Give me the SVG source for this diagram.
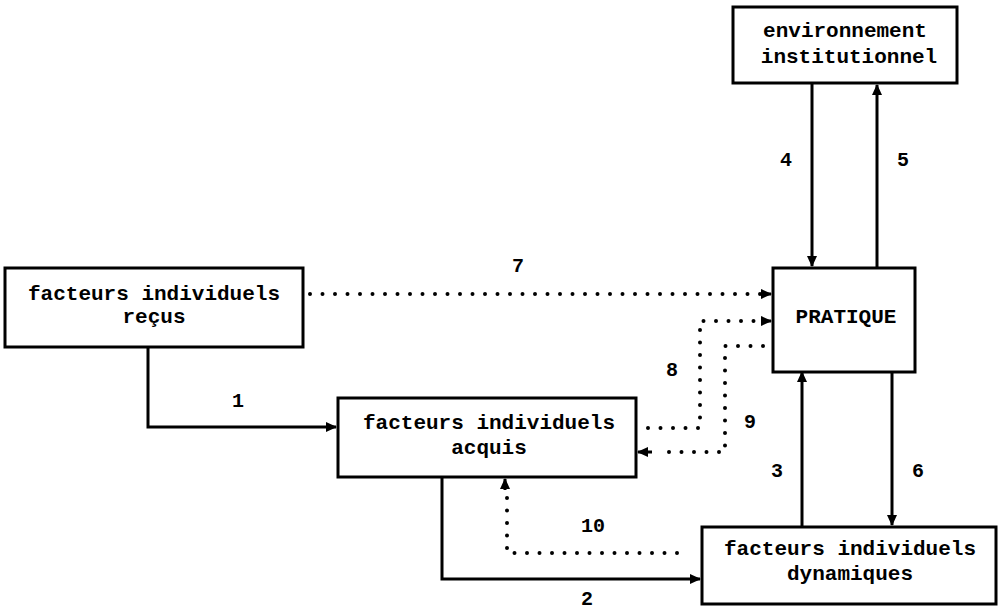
<svg xmlns="http://www.w3.org/2000/svg" width="998" height="610" viewBox="0 0 998 610">
<style>
.box{fill:#fff;stroke:#000;stroke-width:3}
.t{font-family:"Liberation Mono",monospace;font-weight:bold;font-size:21px;fill:#000;text-anchor:middle}
.n{font-family:"Liberation Mono",monospace;font-weight:bold;font-size:20px;fill:#000;text-anchor:middle}
.s{fill:none;stroke:#000;stroke-width:3}
.d{fill:none;stroke:#000;stroke-width:4;stroke-linecap:round;stroke-dasharray:0 12.5}
</style>
<defs>
<marker id="ah" markerUnits="userSpaceOnUse" markerWidth="12" markerHeight="12" refX="10" refY="6" orient="auto">
<path d="M0,1 L11,6 L0,11 Z" fill="#000"/>
</marker>
</defs>
<rect width="998" height="610" fill="#fff"/>
<g id="connectors">
<path class="s" d="M148,347 V427 H336" marker-end="url(#ah)"/>
<path class="s" d="M442,477 V579 H700" marker-end="url(#ah)"/>
<path class="s" d="M802,527 V372" marker-end="url(#ah)"/>
<path class="s" d="M812,83 V266" marker-end="url(#ah)"/>
<path class="s" d="M877,268 V85" marker-end="url(#ah)"/>
<path class="s" d="M892,372 V525" marker-end="url(#ah)"/>
<path class="d" d="M310,294 H765"/>
<path class="s" d="M762,294 H771" marker-end="url(#ah)"/>
<path class="d" d="M648,428 H700 V321 H765"/>
<path class="s" d="M762,321 H771" marker-end="url(#ah)"/>
<path class="d" d="M763,346 H725 V452 H660"/>
<path class="s" d="M652,452 H638" marker-end="url(#ah)"/>
<path class="d" d="M677,553 H507 V492"/>
<path class="s" d="M505,490 V479" marker-end="url(#ah)"/>
<text class="n" x="518" y="272">7</text>
<text class="n" x="786" y="166">4</text>
<text class="n" x="903" y="166">5</text>
<text class="n" x="238" y="407">1</text>
<text class="n" x="672" y="376">8</text>
<text class="n" x="750" y="428">9</text>
<text class="n" x="777" y="477">3</text>
<text class="n" x="918" y="477">6</text>
<text class="n" x="593" y="532">10</text>
<text class="n" x="587" y="605">2</text>
</g>
<g id="env">
<rect class="box" x="733" y="7" width="224" height="76"/>
<text class="t" x="845" y="37">environnement</text>
<text class="t" x="849" y="63">institutionnel</text>
</g>
<g id="pratique">
<rect class="box" x="773" y="268" width="142" height="104"/>
<text class="t" x="846" y="323" font-size="22">PRATIQUE</text>
</g>
<g id="recus">
<rect class="box" x="5" y="268" width="298" height="79"/>
<text class="t" x="154" y="300">facteurs individuels</text>
<text class="t" x="154" y="323">reçus</text>
</g>
<g id="acquis">
<rect class="box" x="338" y="398" width="298" height="79"/>
<text class="t" x="489" y="429">facteurs individuels</text>
<text class="t" x="489" y="454">acquis</text>
</g>
<g id="dynamiques">
<rect class="box" x="702" y="527" width="294" height="77"/>
<text class="t" x="850" y="555">facteurs individuels</text>
<text class="t" x="850" y="580">dynamiques</text>
</g>
</svg>
